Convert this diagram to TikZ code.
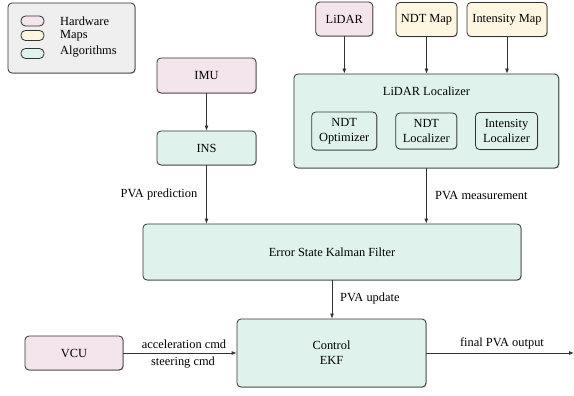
\documentclass[tikz,border=0pt]{standalone}
\usepackage{fontspec}
\setmainfont{Liberation Serif}
\usetikzlibrary{arrows.meta,shadows}
\definecolor{hwfill}{HTML}{F4E4EB}
\definecolor{mapfill}{HTML}{FDF6E0}
\definecolor{algfill}{HTML}{DFF2EB}
\definecolor{legfill}{HTML}{EFEFEF}
\definecolor{edge}{HTML}{333333}
\tikzset{
  box/.style={draw=edge, line width=0.8pt, rounded corners=4pt, align=center, inner sep=1pt,
    drop shadow={shadow xshift=0.6pt, shadow yshift=-0.6pt, opacity=0.6, fill=black!70}},
  hw/.style={box, fill=hwfill},
  mp/.style={box, fill=mapfill},
  alg/.style={box, fill=algfill},
  sw/.style={draw=edge, line width=0.8pt, rounded corners=4.5pt, minimum width=23pt, minimum height=10pt, inner sep=0pt},
  arr/.style={draw=edge, line width=0.8pt, -{Latex[length=5pt,width=4pt]}},
  lbl/.style={inner sep=0pt, align=center},
}
\begin{document}
\begin{tikzpicture}[x=1pt,y=-1pt,font=\fontsize{12.4}{15}\selectfont]
\useasboundingbox (0,0) rectangle (574,396);
% legend
\node[box, fill=legfill, minimum width=127pt, minimum height=70pt] (legend) at (71.5,38) {};
\node[sw, fill=hwfill] (swhw) at (32.5,21) {};
\node[sw, fill=mapfill] (swmp) at (32.5,35.5) {};
\node[sw, fill=algfill] (swalg) at (32.5,53.5) {};
\node[lbl, anchor=west] (thw) at (60,21.5) {Hardware};
\node[lbl, anchor=west] (tmp) at (60,35.5) {Maps};
\node[lbl, anchor=west] (talg) at (60,52) {Algorithms};
% top sources
\node[hw, minimum width=99pt, minimum height=35pt] (imu) at (206.5,75.5) {IMU};
\node[alg, minimum width=99pt, minimum height=34pt] (ins) at (206.5,148) {INS};
\node[hw, minimum width=57pt, minimum height=34pt] (lidar) at (344.3,19) {LiDAR};
\node[mp, minimum width=61pt, minimum height=34pt] (ndtmap) at (426.5,19.5) {NDT Map};
\node[mp, minimum width=80pt, minimum height=34pt] (intmap) at (507,19.5) {Intensity Map};
% lidar localizer
\node[alg, minimum width=264.7pt, minimum height=94pt] (ll) at (426.3,121) {};
\node[lbl] (lltitle) at (426.5,91) {LiDAR Localizer};
\node[alg, minimum width=65pt, minimum height=38pt] (ndtopt) at (344.2,131) {NDT\\Optimizer};
\node[alg, minimum width=61pt, minimum height=36pt] (ndtloc) at (426.3,131) {NDT\\Localizer};
\node[alg, minimum width=62pt, minimum height=37pt] (intloc) at (506.5,131) {Intensity\\Localizer};
% filters
\node[alg, minimum width=378pt, minimum height=56pt] (eskf) at (332,252) {Error State Kalman Filter};
\node[alg, minimum width=189pt, minimum height=68pt] (ekf) at (331.5,353) {Control\\EKF};
\node[hw, minimum width=98pt, minimum height=34pt] (vcu) at (74,353) {VCU};
\coordinate (outend) at (574,353);
% arrows
\draw[arr] (imu) -- (ins);
\draw[arr] (lidar) -- (lidar |- ll.north);
\draw[arr] (ndtmap) -- (ndtmap |- ll.north);
\draw[arr] (intmap) -- (intmap |- ll.north);
\draw[arr] (ins) -- (ins |- eskf.north);
\draw[arr] (ll) -- (ll |- eskf.north);
\draw[arr] (eskf) -- (eskf |- ekf.north);
\draw[arr] (vcu) -- (ekf);
\draw[arr] (ekf) -- (outend);
% labels
\node[lbl, anchor=east] (lpred) at (197.5,195) {PVA prediction};
\node[lbl, anchor=west] (lmeas) at (435,196) {PVA measurement};
\node[lbl, anchor=west] (lupd) at (340,299) {PVA update};
\node[lbl] (lacc) at (184,344) {acceleration cmd};
\node[lbl] (lsteer) at (183,363) {steering cmd};
\node[lbl] (lout) at (502,343) {final PVA output};
\end{tikzpicture}
\end{document}
